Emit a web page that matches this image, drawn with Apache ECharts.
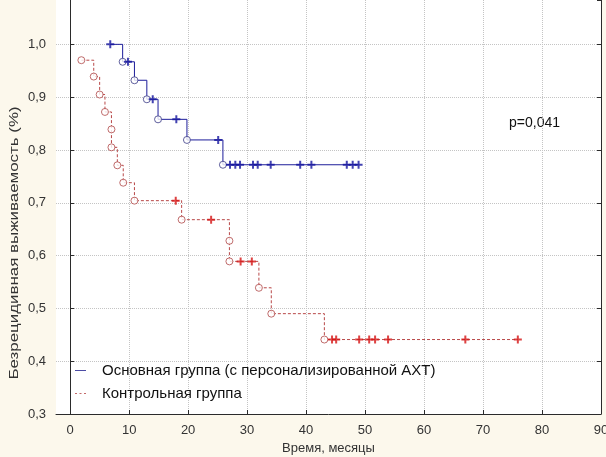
<!DOCTYPE html>
<html>
<head>
<meta charset="utf-8">
<script src="https://cdn.jsdelivr.net/npm/echarts@6/dist/echarts.min.js"></script>
<style>
  html, body { margin: 0; padding: 0; background: #fcf8ec; }
  #chart { width: 606px; height: 457px; }
</style>
</head>
<body>
<div id="chart"></div>
<script>
// Kaplan–Meier step curves: time (months) and survival at each step
const mainName = 'Основная группа (с персонализированной АХТ)';
const ctrlName = 'Контрольная группа';

const mainStepTimes = [6.8, 8.9, 10.9, 13.0, 14.9, 19.8, 25.9, 48.9];
const mainStepSurv  = [1.0, 0.967, 0.932, 0.896, 0.858, 0.819, 0.772, 0.772];
// events (open circles)
const mainEventTimes = [8.9, 10.9, 13.0, 14.9, 19.8, 25.9];
const mainEventSurv  = [0.967, 0.932, 0.896, 0.858, 0.819, 0.772];
// censored (crosses)
const mainCensTimes = [6.8, 9.8, 14.0, 18.0, 25.1, 27.1, 28.0, 28.8, 31.0, 31.8, 34.0, 39.0, 40.9, 46.9, 47.9, 48.9];
const mainCensSurv  = [1.0, 0.967, 0.896, 0.858, 0.819, 0.772, 0.772, 0.772, 0.772, 0.772, 0.772, 0.772, 0.772, 0.772, 0.772, 0.772];

const ctrlStepTimes = [1.9, 4.0, 5.0, 5.9, 7.0, 7.0, 8.0, 9.0, 10.9, 18.9, 27.0, 27.0, 32.0, 34.1, 43.1, 75.9];
const ctrlStepSurv  = [0.970, 0.939, 0.905, 0.872, 0.839, 0.805, 0.771, 0.738, 0.704, 0.668, 0.628, 0.589, 0.539, 0.490, 0.441, 0.441];
const ctrlEventTimes = [1.9, 4.0, 5.0, 5.9, 7.0, 7.0, 8.0, 9.0, 10.9, 18.9, 27.0, 27.0, 32.0, 34.1, 43.1];
const ctrlEventSurv  = [0.970, 0.939, 0.905, 0.872, 0.839, 0.805, 0.771, 0.738, 0.704, 0.668, 0.628, 0.589, 0.539, 0.490, 0.441];
const ctrlCensTimes = [17.9, 23.9, 28.9, 30.8, 44.4, 45.1, 49.0, 50.7, 51.7, 53.9, 67.0, 75.9];
const ctrlCensSurv  = [0.704, 0.668, 0.589, 0.589, 0.441, 0.441, 0.441, 0.441, 0.441, 0.441, 0.441, 0.441];

const pText = 'p=0,041';

const zip = (xs, ys) => xs.map((x, i) => [x, ys[i]]);
const plusPath = 'path://M-1,-4L1,-4L1,-1L4,-1L4,1L1,1L1,4L-1,4L-1,1L-4,1L-4,-1L-1,-1Z';
// legend glyphs: tiny corner dots keep the 13x14 box so the stroke is not stretched
const boxPts = 'M0,0h0.01v0.01h-0.01z M12.99,13.99h0.01v0.01h-0.01z ';
const solidIcon = 'path://' + boxPts + 'M1,6.5h11v1h-11z';
const dottedIcon = 'path://' + boxPts + 'M1,6.5h2v1h-2z M5.5,6.5h2v1h-2z M10,6.5h2v1h-2z';

const blueLine = '#1c1c9a';
const blueMark = '#14149e';
const redLine = '#b84848';
const redMark = '#d41414';
const axisColor = '#2b2b2b';
const font = 'Liberation Sans, Arial, sans-serif';

const chart = echarts.init(document.getElementById('chart'), null, { renderer: 'canvas' });

const yCommon = {
  type: 'value',
  min: 0.3,
  max: 1.084,
  splitNumber: 8,
  axisLine: { show: true, lineStyle: { color: axisColor, width: 1 } },
  axisTick: { show: true, inside: true, length: 4, lineStyle: { color: axisColor } }
};

chart.setOption({
  backgroundColor: '#fcf8ec',
  animation: false,
  grid: {
    left: 56, right: 5, top: 0, bottom: 43,
    outerBoundsMode: 'none',
    containLabel: false,
    show: true, backgroundColor: '#ffffff', borderWidth: 0
  },
  xAxis: {
    type: 'value',
    min: -2.4,
    max: 90,
    splitNumber: 9,
    axisLine: { onZero: false, lineStyle: { color: axisColor, width: 1 } },
    axisTick: { inside: true, length: 4, lineStyle: { color: axisColor } },
    axisLabel: {
      showMinLabel: false, color: '#333', fontFamily: font, fontSize: 13, margin: 10
    },
    splitLine: { show: true, showMinLine: false, lineStyle: { color: '#c4c4c4', type: 'dotted', width: 1 } },
    name: 'Время, месяцы',
    nameLocation: 'middle',
    nameGap: 28,
    nameTextStyle: { color: '#333', fontFamily: font, fontSize: 13 }
  },
  yAxis: [
    Object.assign({}, yCommon, {
      position: 'left',
      axisLabel: {
        showMaxLabel: false, color: '#333', fontFamily: font, fontSize: 13, margin: 10,
        formatter: v => v.toFixed(1).replace('.', ',')
      },
      splitLine: { show: true, showMaxLine: false, showMinLine: false, lineStyle: { color: '#c4c4c4', type: 'dotted', width: 1 } }
    }),
    Object.assign({}, yCommon, {
      position: 'right',
      axisLabel: { show: false },
      splitLine: { show: false },
      axisTick: { show: true, inside: true, length: 4, lineStyle: { color: axisColor } }
    })
  ],
  legend: {
    orient: 'vertical',
    left: 74,
    top: 363,
    padding: 0,
    itemWidth: 13,
    itemHeight: 14,
    itemGap: 8,
    data: [
      { name: mainName, icon: solidIcon, itemStyle: { color: '#4c4ca4' } },
      { name: ctrlName, icon: dottedIcon, itemStyle: { color: '#c46a6a' } }
    ],
    textStyle: { color: '#111', fontFamily: font, fontSize: 15, padding: [0, 0, 0, 10] }
  },
  graphic: [
    {
      type: 'text',
      x: 14, y: 243,
      rotation: Math.PI / 2,
      scaleX: 1.3,
      style: {
        text: 'Безрецидивная выживаемость (%)',
        fill: '#333', font: '13px ' + font,
        textAlign: 'center', textVerticalAlign: 'middle'
      }
    },
    {
      type: 'text',
      x: 509, y: 123,
      style: {
        text: pText, fill: '#111', font: '14px ' + font,
        textAlign: 'left', textVerticalAlign: 'middle'
      }
    }
  ],
  series: [
    {
      name: mainName, type: 'line', step: 'end', symbol: 'none',
      data: zip(mainStepTimes, mainStepSurv),
      lineStyle: { color: blueLine, width: 1 }, itemStyle: { color: blueLine }, z: 2
    },
    {
      name: ctrlName, type: 'line', step: 'end', symbol: 'none',
      data: zip(ctrlStepTimes, ctrlStepSurv),
      lineStyle: { color: redLine, width: 1, type: [3, 2] }, itemStyle: { color: redLine }, z: 2
    },
    {
      type: 'scatter', symbol: 'circle', symbolSize: 7,
      data: zip(mainEventTimes, mainEventSurv),
      itemStyle: { color: '#fff', borderColor: '#3a3a86', borderWidth: 1 }, z: 3
    },
    {
      type: 'scatter', symbol: 'circle', symbolSize: 7,
      data: zip(ctrlEventTimes, ctrlEventSurv),
      itemStyle: { color: '#fff', borderColor: '#b04848', borderWidth: 1 }, z: 3
    },
    {
      type: 'scatter', symbol: plusPath, symbolSize: 8,
      data: zip(mainCensTimes, mainCensSurv),
      itemStyle: { color: blueMark }, z: 4
    },
    {
      type: 'scatter', symbol: plusPath, symbolSize: 8,
      data: zip(ctrlCensTimes, ctrlCensSurv),
      itemStyle: { color: redMark }, z: 4
    }
  ]
});
</script>
</body>
</html>
